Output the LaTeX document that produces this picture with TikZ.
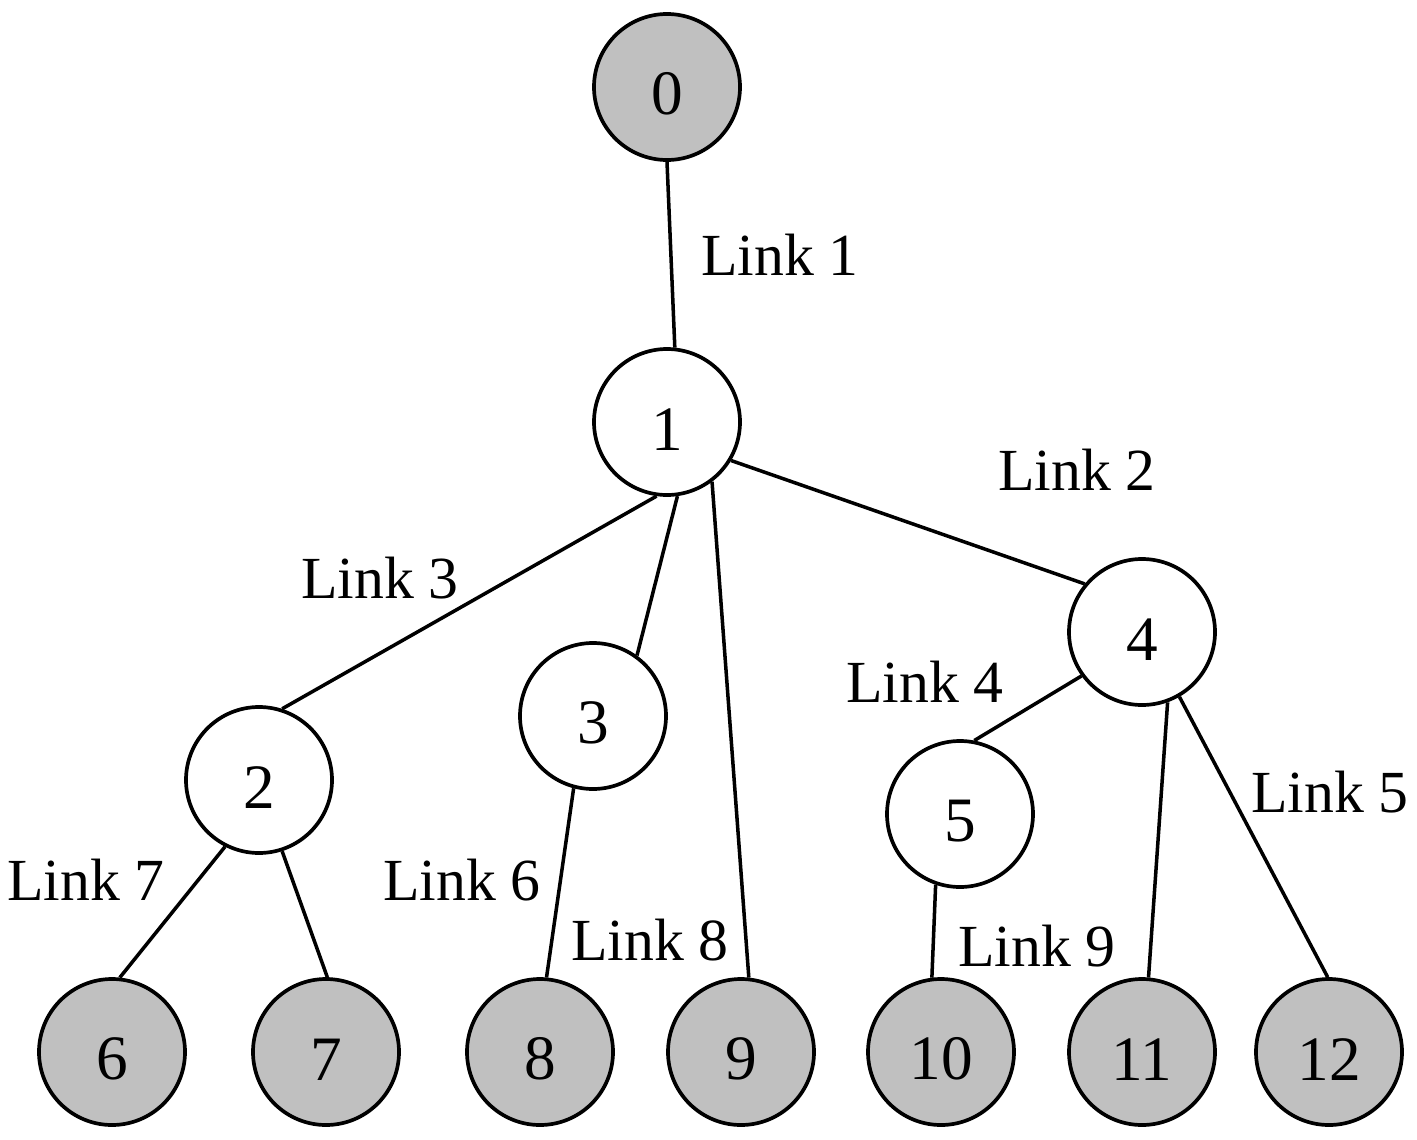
\documentclass[tikz,border=0pt]{standalone}
\usepackage{fontspec}
\setmainfont{Liberation Serif}
\definecolor{leafgray}{HTML}{C0C0C0}
\tikzset{
  vtx/.style={circle, draw, line width=1.05pt, minimum size=1.46cm, inner sep=0pt, text height=0.56cm, font=\fontsize{18}{21}\selectfont},
  leaf/.style={vtx, fill=leafgray},
  lbl/.style={font=\fontsize{17}{20}\selectfont, inner sep=0pt},
  edge/.style={line width=1pt}
}
\begin{document}
\begin{tikzpicture}
        \useasboundingbox (0,0) rectangle (14.17,11.39);

        \node[leaf] (n0) at (6.67,10.52) {0};
        \node[vtx] (n1) at (6.67,7.17) {1};
        \node[vtx] (n2) at (2.59,3.59) {2};
        \node[vtx] (n3) at (5.93,4.23) {3};
        \node[vtx] (n4) at (11.42,5.07) {4};
        \node[vtx] (n5) at (9.60,3.25) {5};
        \node[leaf] (n6) at (1.12,0.87) {6};
        \node[leaf] (n7) at (3.26,0.87) {7};
        \node[leaf] (n8) at (5.40,0.87) {8};
        \node[leaf] (n9) at (7.41,0.87) {9};
        \node[leaf] (n10) at (9.41,0.87) {10};
        \node[leaf] (n11) at (11.42,0.87) {11};
        \node[leaf] (n12) at (13.29,0.87) {12};

        \node[lbl] (l1) at (7.80,8.84) {Link 1};
        \node[lbl] (l2) at (10.77,6.69) {Link 2};
        \node[lbl] (l3) at (3.80,5.61) {Link 3};
        \node[lbl] (l4) at (9.25,4.57) {Link 4};
        \node[lbl] (l5) at (13.30,3.47) {Link 5};
        \node[lbl] (l6) at (4.62,2.59) {Link 6};
        \node[lbl] (l7) at (0.86,2.59) {Link 7};
        \node[lbl] (l8) at (6.50,1.99) {Link 8};
        \node[lbl] (l9) at (10.37,1.93) {Link 9};

        \draw[edge] (n0.-90) -- (n1.84);
        \draw[edge] (n1.-31) -- (n4.140);
        \draw[edge] (n1.262) -- (n2.72);
        \draw[edge] (n1.-82) -- (n3.54);
        \draw[edge] (n1.-53) -- (n9.84);
        \draw[edge] (n4.216) -- (n5.79);
        \draw[edge] (n4.-70) -- (n11.85);
        \draw[edge] (n4.-60) -- (n12.91);
        \draw[edge] (n2.243) -- (n6.84);
        \draw[edge] (n2.-72) -- (n7.89);
        \draw[edge] (n3.255) -- (n8.85);
        \draw[edge] (n5.251) -- (n10.97);
\end{tikzpicture}
\end{document}
